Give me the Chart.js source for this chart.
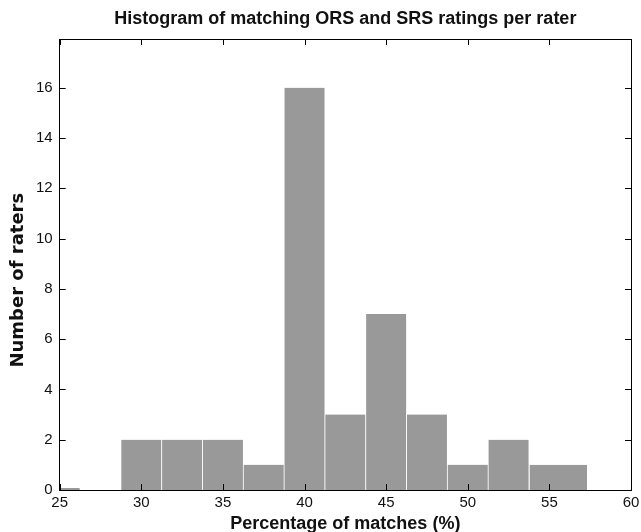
<!DOCTYPE html>
<html>
<head>
<meta charset="utf-8">
<title>Histogram of matching ORS and SRS ratings per rater</title>
<script src="https://cdn.jsdelivr.net/npm/chart.js@4.4.1/dist/chart.umd.min.js"></script>
<style>
  html, body { margin: 0; padding: 0; background: #fff; }
  #chart { display: block; }
</style>
</head>
<body>
<canvas id="chart" width="641" height="532"></canvas>
<script>
// Histogram data: bin centre (% matches) and number of raters in that bin
const binCenters = [25, 30, 32.5, 35, 37.5, 40, 42.5, 45, 47.5, 50, 52.5];
const raterCounts = [0, 2, 2, 2, 1, 16, 3, 7, 3, 1, 2];
// last bin is wider than the others
const lastBinCenters = [55.55];
const lastBinCounts = [1];
const binWidth = 2.5;
const lastBinWidth = 3.6;

// Axis ticks
const xTicks = [25, 30, 35, 40, 45, 50, 55, 60];
const yTicks = [0, 2, 4, 6, 8, 10, 12, 14, 16];

Chart.defaults.font.family = '"Liberation Sans", Arial, Helvetica, sans-serif';
Chart.defaults.color = '#111';

// Draws the box round the plot and the inward tick marks on all four sides
const frameAndTicks = {
  id: 'frameAndTicks',
  afterDatasetsDraw(chart) {
    const { ctx, chartArea, scales } = chart;
    const { left, right, top, bottom } = chartArea;
    const len = 6;
    ctx.save();
    ctx.strokeStyle = '#000';
    ctx.lineWidth = 1;
    ctx.beginPath();
    scales.x.ticks.forEach(t => {
      const px = Math.round(scales.x.getPixelForValue(t.value)) + 0.5;
      ctx.moveTo(px, bottom);
      ctx.lineTo(px, bottom - len);
      ctx.moveTo(px, top);
      ctx.lineTo(px, top + len);
    });
    scales.y.ticks.forEach(t => {
      const py = Math.round(scales.y.getPixelForValue(t.value)) + 0.5;
      ctx.moveTo(left, py);
      ctx.lineTo(left + len, py);
      ctx.moveTo(right, py);
      ctx.lineTo(right - len, py);
    });
    ctx.stroke();
    ctx.strokeRect(Math.round(left) - 0.5, Math.round(top) + 0.5,
      Math.round(right - left) + 1, Math.round(bottom - top));
    ctx.restore();
  }
};

const barStyle = {
  backgroundColor: '#999999',
  borderColor: '#ffffff',
  borderWidth: { left: 0.75, right: 0.75, top: 0, bottom: 0 },
  grouped: false,
  categoryPercentage: 1,
  clip: 0
};

const ctx = document.getElementById('chart');
new Chart(ctx, {
  type: 'bar',
  data: {
    datasets: [{
      ...barStyle,
      label: 'Raters',
      data: binCenters.map((x, i) => ({ x: x, y: raterCounts[i] })),
      barPercentage: 1,
      minBarLength: 2
    }, {
      ...barStyle,
      label: 'Raters (last bin)',
      data: lastBinCenters.map((x, i) => ({ x: x, y: lastBinCounts[i] })),
      barPercentage: lastBinWidth / binWidth
    }]
  },
  options: {
    responsive: false,
    animation: false,
    layout: { padding: { left: 0, right: 10, top: 0, bottom: 0 } },
    plugins: {
      legend: { display: false },
      tooltip: { enabled: false },
      title: {
        display: true,
        fullSize: false,
        text: 'Histogram of matching ORS and SRS ratings per rater',
        font: { size: 18, weight: 'bold', lineHeight: 1.2 },
        padding: { top: 8, bottom: 9.4 },
        color: '#111'
      }
    },
    scales: {
      x: {
        type: 'linear',
        min: 25,
        max: 60,
        offset: false,
        grid: { display: false, drawTicks: false },
        border: { display: false },
        afterBuildTicks: axis => { axis.ticks = xTicks.map(v => ({ value: v })); },
        // let the "60" label run into the right margin
        afterFit: axis => { axis.paddingRight = 0; },
        ticks: { padding: 4, font: { size: 15 }, maxRotation: 0 },
        title: {
          display: true,
          text: 'Percentage of matches (%)',
          font: { size: 18, weight: 'bold', lineHeight: 1 },
          padding: { top: -1, bottom: -1 }
        }
      },
      y: {
        min: 0,
        max: 17.94,
        grid: { display: false, drawTicks: false },
        border: { display: false },
        afterBuildTicks: axis => { axis.ticks = yTicks.map(v => ({ value: v })); },
        ticks: { padding: 7, font: { size: 15 } },
        title: {
          display: true,
          text: 'Number of raters     ',
          font: { family: '"DejaVu Sans", sans-serif', size: 18, weight: 'bold', lineHeight: 1 },
          padding: { top: 9, bottom: 2 }
        }
      }
    }
  },
  plugins: [frameAndTicks]
});
</script>
</body>
</html>
